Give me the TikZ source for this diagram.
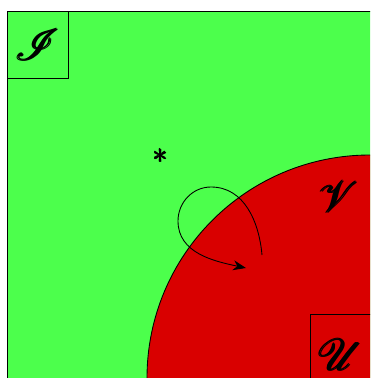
\documentclass[tikz,border=0pt]{standalone}
\usepackage{amsmath, amssymb, bm}
\usepackage{mathrsfs}
\usepackage{tikz}
\usetikzlibrary{arrows.meta, positioning}

\begin{document}
\begin{tikzpicture}[
  x=0.02cm, y=-0.02cm,
  region/.style={draw=black, line width=0.5pt},
  setbox/.style={draw=black, line width=0.5pt, inner sep=0pt, font=\fontsize{27}{30}\selectfont},
  setlab/.style={font=\fontsize{27}{30}\selectfont, inner sep=0pt},
  loop/.style={line width=0.5pt, -{Stealth[length=2.6mm,width=2mm]}}
]
\useasboundingbox (0,0) rectangle (370,378);
\clip (0,0) rectangle (370,378);
% the space and the open set
\fill[white] (0,0) rectangle (370,378);
\draw[region, fill=green!70] (7,11) rectangle (420,430);
\draw[region, fill=red!85!black] (370,378) circle [radius=223];

% labels
\node[setbox, minimum width=1.22cm, minimum height=1.34cm, anchor=north west] (I) at (7,11) {$\pmb{\mathscr{I}}$};
\node[setlab] (V) at (339,197) {$\pmb{\mathscr{V}}$};
\node[setbox, minimum width=1.6cm, minimum height=1.6cm, anchor=north west, text width=1.6cm, align=left] (U) at (310,314) {\hspace{0.15cm}$\pmb{\mathscr{U}}$};
\node[font=\LARGE, inner sep=0pt] (star) at (161,156) {$\pmb{*}$};

% the loop
\coordinate (s) at (262,255);
\coordinate (e) at (246,268);
\draw[loop] (s) to[out=95,in=0] (211,187) to[out=180,in=90] (178,221) to[out=270,in=168] (e);
\end{tikzpicture}
\end{document}
